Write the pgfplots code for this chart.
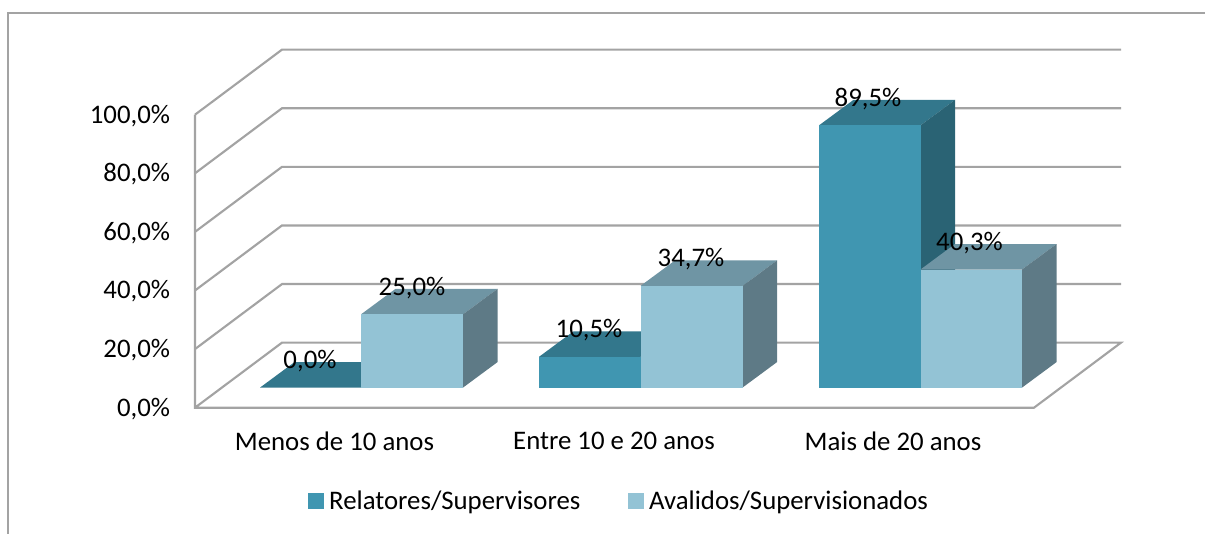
\documentclass[border=0pt]{standalone}
\usepackage{pgfplots}
\pgfplotsset{compat=1.18}
\usepackage{fontspec}
\setmainfont{Carlito}
\definecolor{gridc}{HTML}{A3A3A3}
\definecolor{afront}{HTML}{4096B1}
\definecolor{atop}{HTML}{33778C}
\definecolor{aside}{HTML}{2A6374}
\definecolor{bfront}{HTML}{93C3D5}
\definecolor{btop}{HTML}{6F95A4}
\definecolor{bside}{HTML}{5E7A86}
\newcommand{\lfont}{\fontsize{20.1pt}{23pt}\selectfont}
\pgfplotsset{
  frameaxis/.style={
    scale only axis, width=694.5pt, height=219.75pt,
    xmin=195, xmax=1121, ymin=0, ymax=100, clip=false,
    axis line style={draw=none}, major tick length=0pt,
    tick label style={font=\lfont},
  },
  gridl/.style={draw=gridc, line width=1.6pt, forget plot, mark=none},
}
\begin{document}
\begin{tikzpicture}
\useasboundingbox (0,0) rectangle (903.75pt,400.5pt);
% walls, grid and frame
\begin{axis}[frameaxis, at={(146.25pt,94.725pt)}, anchor=south west,
  ytick={0,20,40,60,80,100},
  yticklabels={{0,0\%},{20,0\%},{40,0\%},{60,0\%},{80,0\%},{100,0\%}},
  yticklabel style={xshift=-18.5pt, yshift=-0.8pt, anchor=east, inner sep=0pt},
  xtick={334.5,614,893},
  xticklabels={Menos de 10 anos,Entre 10 e 20 anos,Mais de 20 anos},
  xticklabel style={yshift=-25.25pt, anchor=center, inner sep=0pt},
]
\addplot[draw=gridc, line width=1.4pt, forget plot] coordinates {(8,-43.1) (8,134.85) (1205,134.85)};
\addplot[gridl] coordinates {(195,100) (282,122.2) (1121,122.2)};
\addplot[gridl] coordinates {(195,80) (282,102.2) (1121,102.2)};
\addplot[gridl] coordinates {(195,60) (282,82.2) (1121,82.2)};
\addplot[gridl] coordinates {(195,40) (282,62.2) (1121,62.2)};
\addplot[gridl] coordinates {(195,20) (282,42.2) (1121,42.2)};
\addplot[gridl] coordinates {(195,100) (195,0) (1034,0) (1121,22.2) (282,22.2) (195,0)};
\end{axis}
% bars: y is the value itself, this axis has its zero on the bars' base line
\begin{axis}[frameaxis, at={(146.25pt,109.8pt)}, anchor=south west,
  xtick=\empty, ytick=\empty,
  legend style={at={(0.122,-0.387)}, anchor=west, draw=none, fill=none, inner sep=0pt, outer sep=0pt,
    font=\lfont, legend columns=2,
    /tikz/every even column/.append style={column sep=33.6pt}},
  legend cell align=left,
]
% Menos de 10 anos
\addplot[fill=atop, draw=none, forget plot] coordinates {(260,0) (361,0) (395.5,8.7) (294.5,8.7)} -- cycle;
\addplot[fill=btop, draw=none, forget plot] coordinates {(361,25) (463,25) (497.5,33.7) (395.5,33.7)} -- cycle;
\addplot[fill=bside, draw=none, forget plot] coordinates {(463,0) (497.5,8.7) (497.5,33.7) (463,25)} -- cycle;
\addplot[fill=bfront, draw=none, forget plot] coordinates {(361,0) (463,0) (463,25) (361,25)} -- cycle;
% Entre 10 e 20 anos
\addplot[fill=atop, draw=none, forget plot] coordinates {(539,10.5) (640.5,10.5) (675,19.2) (573.5,19.2)} -- cycle;
\addplot[fill=afront, draw=none, forget plot] coordinates {(539,0) (640.5,0) (640.5,10.5) (539,10.5)} -- cycle;
\addplot[fill=btop, draw=none, forget plot] coordinates {(640.5,34.7) (742.5,34.7) (777,43.4) (675,43.4)} -- cycle;
\addplot[fill=bside, draw=none, forget plot] coordinates {(742.5,0) (777,8.7) (777,43.4) (742.5,34.7)} -- cycle;
\addplot[fill=bfront, draw=none, forget plot] coordinates {(640.5,0) (742.5,0) (742.5,34.7) (640.5,34.7)} -- cycle;
% Mais de 20 anos
\addplot[fill=atop, draw=none, forget plot] coordinates {(819,89.5) (920.5,89.5) (955,98.2) (853.5,98.2)} -- cycle;
\addplot[fill=aside, draw=none, forget plot] coordinates {(920.5,0) (955,8.7) (955,98.2) (920.5,89.5)} -- cycle;
\addplot[fill=afront, draw=none, forget plot] coordinates {(819,0) (920.5,0) (920.5,89.5) (819,89.5)} -- cycle;
\addplot[fill=btop, draw=none, forget plot] coordinates {(920.5,40.3) (1022,40.3) (1056.5,49) (955,49)} -- cycle;
\addplot[fill=bside, draw=none, forget plot] coordinates {(1022,0) (1056.5,8.7) (1056.5,49) (1022,40.3)} -- cycle;
\addplot[fill=bfront, draw=none, forget plot] coordinates {(920.5,0) (1022,0) (1022,40.3) (920.5,40.3)} -- cycle;
% data labels
\node[font=\lfont, inner sep=0pt] at (axis cs:310,9.0) {0,0\%};
\node[font=\lfont, inner sep=0pt] at (axis cs:412,33.9) {25,0\%};
\node[font=\lfont, inner sep=0pt] at (axis cs:589,19.6) {10,5\%};
\node[font=\lfont, inner sep=0pt] at (axis cs:691,43.8) {34,7\%};
\node[font=\lfont, inner sep=0pt] at (axis cs:868,98.6) {89,5\%};
\node[font=\lfont, inner sep=0pt] at (axis cs:969.5,49.3) {40,3\%};
\addlegendimage{legend image code/.code={\fill[afront] (0pt,-5.6pt) rectangle (11.2pt,5.6pt); \path (13.5pt,0);}}
\addlegendentry{Relatores/Supervisores}
\addlegendimage{legend image code/.code={\fill[bfront] (0pt,-5.6pt) rectangle (11.2pt,5.6pt); \path (13.5pt,0);}}
\addlegendentry{Avalidos/Supervisionados}
\end{axis}
\end{tikzpicture}
\end{document}
